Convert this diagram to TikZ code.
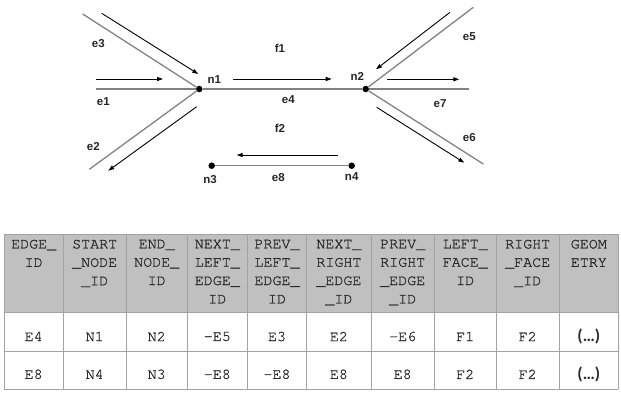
\documentclass[tikz,border=0pt]{standalone}
\usepackage{fontspec}
\setmainfont{Liberation Sans}
\newfontfamily\monofam[FakeBold=1.2]{texgyrecursor-regular.otf}
\newfontfamily\calfam{Carlito}
\usetikzlibrary{arrows.meta}
\definecolor{edgegray}{HTML}{828282}
\definecolor{headfill}{HTML}{C0C0C0}
\definecolor{gridgray}{HTML}{A2A2A2}
\definecolor{inkdark}{HTML}{262626}
\definecolor{tabink}{HTML}{2A2A2A}
\tikzset{
  vertex/.style={circle, fill=black, inner sep=0pt, minimum size=6.5pt},
  edgeline/.style={draw=edgegray, line width=1.3pt},
  dirarrow/.style={draw=black, line width=0.9pt, -{Triangle[length=6pt,width=4pt]}},
  lbl/.style={inner sep=0pt, text=inkdark, font=\fontsize{11.5}{13}\selectfont\bfseries},
  headtxt/.style={anchor=north, inner sep=0pt, align=center, text=tabink,
    font=\monofam\fontsize{15}{18.4}\selectfont},
  celltxt/.style={inner sep=0pt, text=tabink, font=\monofam\fontsize{15}{18.4}\selectfont},
  geomtxt/.style={inner sep=0pt, text=tabink, font=\calfam\bfseries\fontsize{17}{18}\selectfont},
  gridline/.style={draw=gridgray, line width=0.9pt}
}
\begin{document}
\begin{tikzpicture}[x=1pt, y=-1pt]
\useasboundingbox (0,0) rectangle (621,392);

% ---- topology: nodes ----
\node[vertex] (n1) at (199.3,89) {};
\node[vertex] (n2) at (365.7,89) {};
\node[vertex] (n3) at (211.7,165.7) {};
\node[vertex] (n4) at (351.7,165.7) {};

% loose ends of the dangling edges
\coordinate (p1) at (96,89);
\coordinate (p3) at (82.7,14);
\coordinate (p2) at (89.3,169.3);
\coordinate (p5) at (473.3,7.3);
\coordinate (p7) at (469.3,89);
\coordinate (p6) at (483.3,164);

% ---- edges ----
\draw[edgeline] (p1) -- (n1);
\draw[edgeline] (p3) -- (n1);
\draw[edgeline] (n1) -- (p2);
\draw[edgeline] (n1) -- (n2);
\draw[edgeline] (n2) -- (p5);
\draw[edgeline] (n2) -- (p7);
\draw[edgeline] (n2) -- (p6);
\draw[edgeline] (n3) -- (n4);

% ---- direction arrows beside the edges ----
\coordinate (a1s) at (96,79);       \coordinate (a1e) at (163,79);
\coordinate (a3s) at (101.7,13.3);  \coordinate (a3e) at (198.3,74);
\coordinate (a2s) at (196.7,106.7); \coordinate (a2e) at (108.3,170.7);
\coordinate (a4s) at (233,79);      \coordinate (a4e) at (331.7,79);
\coordinate (a5s) at (450,12.3);    \coordinate (a5e) at (376,69.3);
\coordinate (a7s) at (387.3,79.3);  \coordinate (a7e) at (459.3,79.3);
\coordinate (a6s) at (376.7,107.3); \coordinate (a6e) at (464.3,162.7);
\coordinate (a8s) at (338.3,155);   \coordinate (a8e) at (236.7,155);
\foreach \k in {1,2,3,4,5,6,7,8} \draw[dirarrow] (a\k s) -- (a\k e);

% ---- labels ----
\node[lbl] (le3) at (98.3,43.3) {e3};
\node[lbl] (le1) at (103.3,101.7) {e1};
\node[lbl] (le2) at (93.3,146.7) {e2};
\node[lbl] (ln1) at (214.3,79.5) {n1};
\node[lbl] (lf1) at (280,48.3) {f1};
\node[lbl] (le4) at (288.3,100) {e4};
\node[lbl] (lf2) at (280,128.3) {f2};
\node[lbl] (ln3) at (210,180) {n3};
\node[lbl] (le8) at (278.3,177.7) {e8};
\node[lbl] (ln4) at (351.7,176.7) {n4};
\node[lbl] (ln2) at (357.3,76.7) {n2};
\node[lbl] (le5) at (469.3,36.7) {e5};
\node[lbl] (le7) at (440,103.3) {e7};
\node[lbl] (le6) at (469.3,137.7) {e6};

% ---- edge table ----
\fill[headfill] (4,234) rectangle (618.3,312);
\foreach \yy in {234,312,351.7,389.3} \draw[gridline] (4,\yy) -- (618.3,\yy);
\foreach \xx in {4,63.3,126,187.3,247.3,306.7,371,434.3,496,559.3,618.3}
  \draw[gridline] (\xx,234) -- (\xx,389.3);

\foreach \i/\cx/\t in {
  1/33.7/{EDGE\_\\ID},
  2/94.7/{START\\\_NODE\\\_ID},
  3/156.7/{END\_\\NODE\_\\ID},
  4/217.3/{NEXT\_\\LEFT\_\\EDGE\_\\ID},
  5/277/{PREV\_\\LEFT\_\\EDGE\_\\ID},
  6/338.9/{NEXT\_\\RIGHT\\\_EDGE\\\_ID},
  7/402.7/{PREV\_\\RIGHT\\\_EDGE\\\_ID},
  8/465.2/{LEFT\_\\FACE\_\\ID},
  9/527.7/{RIGHT\\\_FACE\\\_ID},
  10/588.8/{GEOM\\ETRY}}
  \node[headtxt] (h\i) at (\cx,239.6) {\t};

\foreach \i/\cx/\ta/\tb in {
  1/33.7/E4/E8, 2/94.7/N1/N4, 3/156.7/N2/N3, 4/217.3/-E5/-E8,
  5/277/E3/-E8, 6/338.9/E2/E8, 7/402.7/-E6/E8, 8/465.2/F1/F2, 9/527.7/F2/F2}
{
  \node[celltxt] (r\i) at (\cx,336.5) {\ta};
  \node[celltxt] (s\i) at (\cx,374.3) {\tb};
}
\node[geomtxt] (r10) at (588.8,336.5) {(…)};
\node[geomtxt] (s10) at (588.8,374.3) {(…)};
\end{tikzpicture}
\end{document}
